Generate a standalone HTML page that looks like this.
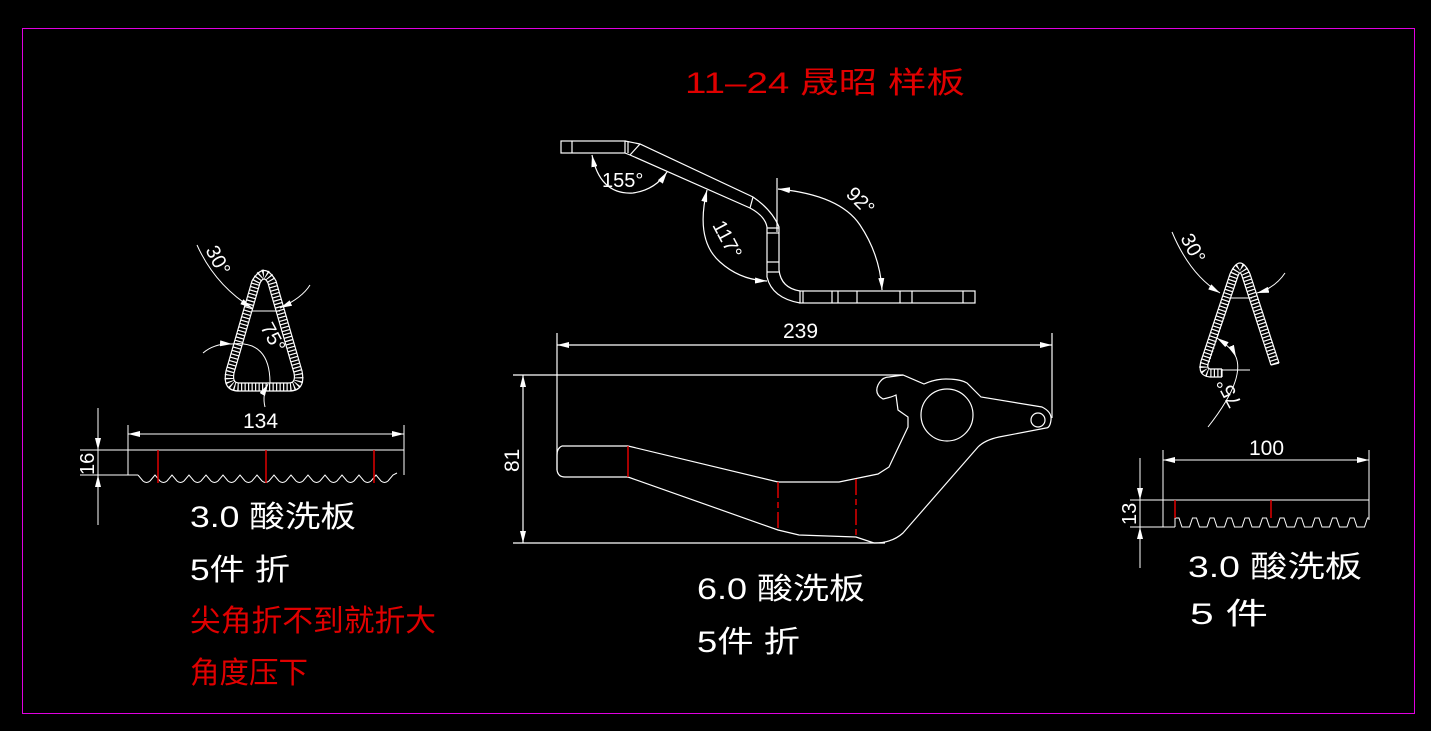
<!DOCTYPE html>
<html><head><meta charset="utf-8"><style>
html,body{margin:0;padding:0;background:#000;}
svg{display:block;}
text{font-family:"Liberation Sans","Noto Sans CJK SC",sans-serif;font-weight:normal;}
</style></head><body>
<svg width="1431" height="731" viewBox="0 0 1431 731" xmlns="http://www.w3.org/2000/svg">
<defs>
<marker id="a" viewBox="0 0 12 6" refX="12" refY="3" markerWidth="12" markerHeight="6" markerUnits="userSpaceOnUse" orient="auto-start-reverse">
<path d="M0,0 L12,3 L0,6 Z" fill="#fff"/>
</marker>
</defs>
<rect x="0" y="0" width="1431" height="731" fill="#000"/>
<rect x="22.5" y="28.5" width="1392" height="685" fill="none" stroke="#e000e0" stroke-width="1"/>

<text x="685" y="93" fill="#e00000" font-size="30" textLength="280" lengthAdjust="spacingAndGlyphs">11–24 晟昭 样板</text>

<g fill="none" stroke="#fff" stroke-width="1.2">
<rect x="561" y="141" width="64" height="12"/>
<line x1="572" y1="141" x2="572" y2="153"/>
<line x1="628" y1="141" x2="628" y2="153"/>
<path d="M625,141 L640,144 L753,197 Q772,210 779,227 L779,270 Q781,288 800,291"/>
<path d="M625,153 L630,155 L750,208 Q765,216 767,227 L767,277 Q772,298 800,303"/>
<line x1="640" y1="144" x2="630" y2="155"/>
<line x1="753" y1="197" x2="750" y2="208"/>
<line x1="767" y1="228" x2="779" y2="228"/>
<line x1="767" y1="233" x2="779" y2="233"/>
<line x1="767" y1="262" x2="779" y2="262"/>
<line x1="767" y1="272" x2="779" y2="272"/>
<rect x="800" y="291" width="175" height="12"/>
<line x1="803" y1="291" x2="803" y2="303"/>
<line x1="832" y1="291" x2="832" y2="303"/>
<line x1="838" y1="291" x2="838" y2="303"/>
<line x1="857" y1="291" x2="857" y2="303"/>
<line x1="900" y1="291" x2="900" y2="303"/>
<line x1="912" y1="291" x2="912" y2="303"/>
<line x1="963" y1="291" x2="963" y2="303"/>
<line x1="777" y1="178" x2="777" y2="232"/>
<path d="M592,155 Q600,195 633,193 Q655,190 667,172" marker-start="url(#a)" marker-end="url(#a)"/>
<path d="M707,190 Q695,240 720,262 Q740,280 767,281" marker-start="url(#a)" marker-end="url(#a)"/>
<path d="M778,189 Q840,195 860,225 Q880,255 882,290" marker-start="url(#a)" marker-end="url(#a)"/>
</g>
<text x="602" y="187" fill="#fff" font-size="20">155°</text>
<text fill="#fff" font-size="20" transform="translate(712,225) rotate(62)">117°</text>
<text fill="#fff" font-size="20" transform="translate(845,195) rotate(45)">92°</text>

<g fill="none" stroke="#fff" stroke-width="1.2">
<line x1="557" y1="333" x2="557" y2="470"/>
<line x1="1052" y1="333" x2="1052" y2="418"/>
<line x1="557" y1="345" x2="1052" y2="345" marker-start="url(#a)" marker-end="url(#a)"/>
<line x1="513" y1="375" x2="903" y2="375"/>
<line x1="513" y1="543" x2="885" y2="543"/>
<line x1="523" y1="375" x2="523" y2="543" marker-start="url(#a)" marker-end="url(#a)"/>
<path d="M628,446 L562,446 Q557,448 557,455 L557,470 Q558,477 565,477 L628,477"/>
<path d="M628,446 L778,482 L839,482 L878,474 L889,467 L908,427 L908,417 L898,410 L896,395 Q892,397 883,399 Q874,394 878,385 Q882,377 889,377 L903,375 L924,384 Q935,379 946,379 Q960,379 967,383 L981,397 L1042,407 Q1052,412 1051,420 Q1050,428 1046,428 L999,437 Q985,440 978,447 L903,533 Q892,543 874,543"/>
<path d="M628,477 L778,530 L799,535 L856,537 L874,543"/>
<circle cx="947" cy="415" r="26"/>
<circle cx="1038" cy="420" r="7"/>
</g>
<g stroke="#e00000" stroke-width="1.5">
<line x1="628" y1="446" x2="628" y2="477"/>
<line x1="778" y1="482" x2="778" y2="530" stroke-dasharray="16 4 6 4"/>
<line x1="856" y1="479" x2="856" y2="537" stroke-dasharray="16 4 6 4"/>
</g>
<text x="783" y="338" fill="#fff" font-size="21">239</text>
<text fill="#fff" font-size="21" transform="translate(519,472) rotate(-90)">81</text>
<text x="697" y="599" fill="#fff" font-size="30" textLength="168" lengthAdjust="spacingAndGlyphs">6.0 酸洗板</text>
<text x="697" y="652" fill="#fff" font-size="30" textLength="103" lengthAdjust="spacingAndGlyphs">5件 折</text>

<g fill="none" stroke="#fff">
<path d="M256,282 Q264,266 272,282 L298,372 Q302,387 289,387 L239,387 Q226,387 230,372 Z" stroke-width="9" stroke-dasharray="1.2 2.3"/>
<path d="M252,281 Q264,260 276,281 L302,371 Q306,391 289,391 L239,391 Q222,391 226,371 Z" stroke-width="1.2"/>
<path d="M260,283 Q264,275 268,283 L294,373 Q296,383 289,383 L239,383 Q232,383 234,373 Z" stroke-width="1.2"/>
<g stroke-width="1">
<path d="M197,245 Q215,285 252,308" marker-end="url(#a)"/>
<path d="M310,285 Q302,298 280,308" marker-end="url(#a)"/>
<line x1="252" y1="311" x2="280" y2="311"/>
<path d="M203,353 Q215,343 232,344" marker-end="url(#a)"/>
<path d="M232,344 Q270,340 270,383" />
<path d="M265,407 Q262,395 268,384" marker-end="url(#a)"/>
<line x1="128" y1="425" x2="128" y2="450"/>
<line x1="404" y1="425" x2="404" y2="475"/>
<line x1="128" y1="434" x2="404" y2="434" marker-start="url(#a)" marker-end="url(#a)"/>
<path d="M128,450 L404,450 L404,473 M128,450 L128,475 L138,475"/>
<line x1="80" y1="450" x2="128" y2="450"/>
<line x1="80" y1="475" x2="138" y2="475"/>
<line x1="98" y1="408" x2="98" y2="450" marker-end="url(#a)"/>
<line x1="98" y1="525" x2="98" y2="475" marker-end="url(#a)"/>
<line x1="98" y1="450" x2="98" y2="475"/>
<path d="M138,475 l5,6 q3.5,3 7,0 l5,-6 l5,6 q3.5,3 7,0 l5,-6 l5,6 q3.5,3 7,0 l5,-6 l5,6 q3.5,3 7,0 l5,-6 l5,6 q3.5,3 7,0 l5,-6 l5,6 q3.5,3 7,0 l5,-6 l5,6 q3.5,3 7,0 l5,-6 l5,6 q3.5,3 7,0 l5,-6 l5,6 q3.5,3 7,0 l5,-6 l5,6 q3.5,3 7,0 l5,-6 l5,6 q3.5,3 7,0 l5,-6 l5,6 q3.5,3 7,0 l5,-6 l5,6 q3.5,3 7,0 l5,-6 l5,6 q3.5,3 7,0 l5,-6 l5,6 q3.5,3 7,0 l5,-6 l4,-2"/>
</g>
</g>
<g stroke="#e00000" stroke-width="1.5">
<line x1="158" y1="450" x2="158" y2="483"/>
<line x1="266" y1="450" x2="266" y2="483"/>
<line x1="374" y1="450" x2="374" y2="483"/>
</g>
<text fill="#fff" font-size="20" transform="translate(205,250) rotate(62)">30°</text>
<text fill="#fff" font-size="20" transform="translate(260,327) rotate(62)">75°</text>
<text x="243" y="428" fill="#fff" font-size="21">134</text>
<text fill="#fff" font-size="20" transform="translate(94,475) rotate(-90)">16</text>
<text x="190" y="527" fill="#fff" font-size="30" textLength="166" lengthAdjust="spacingAndGlyphs">3.0 酸洗板</text>
<text x="190" y="580" fill="#fff" font-size="30" textLength="100" lengthAdjust="spacingAndGlyphs">5件 折</text>
<text x="190" y="631" fill="#e00000" font-size="30" textLength="246" lengthAdjust="spacingAndGlyphs">尖角折不到就折大</text>
<text x="190" y="683" fill="#e00000" font-size="30" textLength="118" lengthAdjust="spacingAndGlyphs">角度压下</text>

<g fill="none" stroke="#fff">
<path d="M1222,373 L1210,373 Q1201,372 1205,362 L1234,275 Q1240,260 1246,275 L1275,364" stroke-width="9" stroke-dasharray="1.2 2.3"/>
<path d="M1222,369 L1210,369 Q1206,368 1209,361 L1238,276 Q1240,270 1242,276 L1271,365" stroke-width="1.2"/>
<path d="M1222,377 L1210,377 Q1197,376 1201,361 L1230,274 Q1240,252 1250,274 L1279,363" stroke-width="1.2"/>
<line x1="1222" y1="369" x2="1222" y2="377" stroke-width="1.2"/>
<line x1="1271" y1="365" x2="1279" y2="363" stroke-width="1.2"/>
<g stroke-width="1">
<path d="M1172,232 Q1190,275 1220,293" marker-end="url(#a)"/>
<path d="M1285,273 Q1275,288 1257,293" marker-end="url(#a)"/>
<line x1="1230" y1="298" x2="1252" y2="298"/>
<path d="M1217,338 Q1232,348 1236,357" marker-start="url(#a)" marker-end="url(#a)"/>
<path d="M1236,357 Q1245,380 1208,427"/>
<line x1="1222" y1="370" x2="1250" y2="370"/>
<line x1="1163" y1="450" x2="1163" y2="527"/>
<line x1="1369" y1="450" x2="1369" y2="520"/>
<line x1="1163" y1="460" x2="1369" y2="460" marker-start="url(#a)" marker-end="url(#a)"/>
<line x1="1130" y1="500" x2="1369" y2="500"/>
<line x1="1130" y1="527" x2="1175" y2="527"/>
<line x1="1140" y1="458" x2="1140" y2="500" marker-end="url(#a)"/>
<line x1="1140" y1="568" x2="1140" y2="527" marker-end="url(#a)"/>
<line x1="1140" y1="500" x2="1140" y2="527"/>
<path d="M1175,527 L1175,518 l4,0 l3,9 l7.5,0 l3,-9 l4,0 l3,9 l7.5,0 l3,-9 l4,0 l3,9 l7.5,0 l3,-9 l4,0 l3,9 l7.5,0 l3,-9 l4,0 l3,9 l7.5,0 l3,-9 l4,0 l3,9 l7.5,0 l3,-9 l4,0 l3,9 l7.5,0 l3,-9 l4,0 l3,9 l7.5,0 l3,-9 l4,0 l3,9 l7.5,0 l3,-9 l4,0 l3,9 l7.5,0 l3,-9 l4,0 l3,9 l7.5,0 l3,-9 l1.5,0 L1369,520"/>
</g>
</g>
<g stroke="#e00000" stroke-width="1.5">
<line x1="1175" y1="500" x2="1175" y2="518"/>
<line x1="1271" y1="500" x2="1271" y2="518"/>
</g>
<text fill="#fff" font-size="20" transform="translate(1180,238) rotate(62)">30°</text>
<text fill="#fff" font-size="20" transform="translate(1242,403) rotate(-118)">75°</text>
<text x="1249" y="455" fill="#fff" font-size="21">100</text>
<text fill="#fff" font-size="20" transform="translate(1136,525) rotate(-90)">13</text>
<text x="1188" y="577" fill="#fff" font-size="30" textLength="174" lengthAdjust="spacingAndGlyphs">3.0  酸洗板</text>
<text x="1190" y="624" fill="#fff" font-size="30" textLength="78" lengthAdjust="spacingAndGlyphs">5 件</text>
</svg>
</body></html>
